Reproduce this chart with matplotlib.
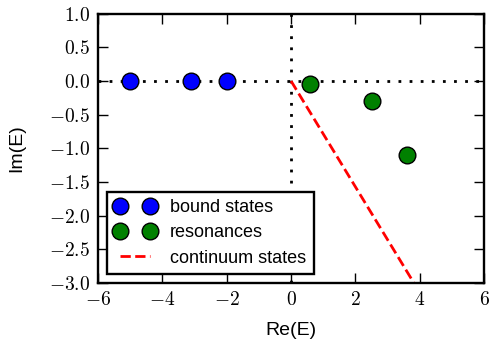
import matplotlib
matplotlib.use('Agg')
import matplotlib.pyplot as plt
from matplotlib.ticker import FuncFormatter
import numpy as np

plt.rcParams['mathtext.fontset'] = 'cm'
plt.rcParams['font.family'] = ['Liberation Sans', 'DejaVu Sans']

# bound states on the real axis
bound_re = [-5.0, -3.1, -2.0]
bound_im = [0.0, 0.0, 0.0]

# resonances below the real axis
res_re = [0.6, 2.5, 3.6]
res_im = [-0.05, -0.3, -1.1]

# rotated continuum line
cont_re = [0.0, 6.0]
cont_im = [0.0, -4.72]

fig = plt.figure(figsize=(4.9, 3.44), dpi=100)
ax = fig.add_axes([0.2, 0.178, 0.788, 0.782])

ax.axhline(0, color='k', ls=(0, (1, 3)), lw=2, zorder=1)
ax.axvline(0, color='k', ls=(0, (1, 3)), lw=2, zorder=1)
ax.plot(bound_re, bound_im, 'o', color='b', mec='k', ms=12, label='bound states', zorder=3)
ax.plot(res_re, res_im, 'o', color='g', mec='k', ms=12, label='resonances', zorder=3)
ax.plot(cont_re, cont_im, '--', color='r', lw=2, label='continuum states', zorder=2)

ax.set_xlim(-6, 6)
ax.set_ylim(-3, 1)
ax.set_xticks(np.arange(-6, 7, 2))
ax.set_yticks(np.arange(-3, 1.01, 0.5))
ax.xaxis.set_major_formatter(FuncFormatter(lambda v, p: '$%d$' % v))
ax.yaxis.set_major_formatter(FuncFormatter(lambda v, p: '$%.1f$' % v))
ax.tick_params(direction='in', top=True, right=True, length=7, width=1, labelsize=14, pad=6)
for s in ax.spines.values():
    s.set_linewidth(1.7)

ax.set_xlabel('Re(E)', fontsize=14, labelpad=9)
ax.set_ylabel('Im(E)', fontsize=14, labelpad=17)

leg = ax.legend(loc='lower left', numpoints=2, fancybox=False, fontsize=13,
                framealpha=1, edgecolor='k', borderaxespad=0.5, handlelength=2.3,
                borderpad=0.4, labelspacing=0.45, handletextpad=0.8)
leg.get_frame().set_linewidth(1.7)

fig.savefig('out.png', dpi=100)
